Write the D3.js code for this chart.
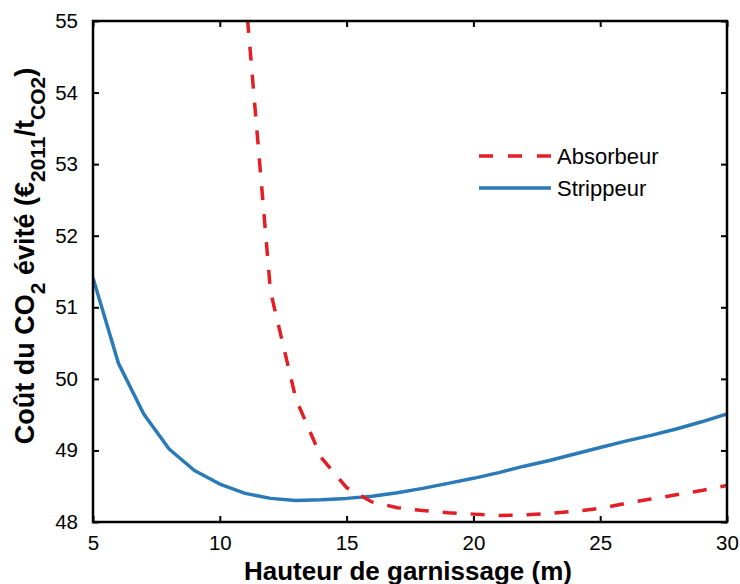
<!DOCTYPE html>
<html><head><meta charset="utf-8">
<script src="https://cdn.jsdelivr.net/npm/d3@7"></script>
<style>body{margin:0;background:#fff}svg{display:block;font-family:"Liberation Sans",Arial,sans-serif}</style>
</head><body><svg id="c" width="740" height="584"></svg>
<script>
const xTicks = [5,10,15,20,25,30];
const yTicks = [48,49,50,51,52,53,54,55];
const stripX = [5,6,7,8,9,10,11,12,13,14,15,16,17,18,19,20,21,22,23,24,25,26,27,28,29,30];
const stripY = [51.41,50.22,49.51,49.02,48.72,48.53,48.40,48.33,48.30,48.31,48.33,48.36,48.41,48.47,48.54,48.61,48.69,48.78,48.86,48.95,49.04,49.13,49.21,49.30,49.40,49.51];
const absX = [11,12,13,14,15,16,17,18,19,20,21,22,23,24,25,26,27,28,29,30];
const absY = [55.42,51.22,49.72,48.90,48.48,48.28,48.20,48.16,48.13,48.11,48.09,48.10,48.12,48.15,48.19,48.26,48.32,48.38,48.44,48.51];
const seriesNames = ["Absorbeur","Strippeur"];

const svg = d3.select("#c");
const L=93, R=727, T=21, B=522;
const x = d3.scaleLinear().domain([5,30]).range([L,R]);
const y = d3.scaleLinear().domain([48,55]).range([B,T]);
const red="#e31e24", blue="#2a7ab7";
const FF="Liberation Sans, Arial, sans-serif";

svg.append("clipPath").attr("id","clip").append("rect").attr("x",L).attr("y",T).attr("width",R-L).attr("height",B-T);

const line = d3.line().x(d=>x(d[0])).y(d=>y(d[1]));
const g = svg.append("g").attr("clip-path","url(#clip)");
g.append("path").datum(stripX.map((v,i)=>[v,stripY[i]])).attr("d",line)
 .attr("fill","none").attr("stroke",blue).attr("stroke-width",3.5).attr("stroke-linejoin","round");
g.append("path").datum(absX.map((v,i)=>[v,absY[i]])).attr("d",line)
 .attr("fill","none").attr("stroke",red).attr("stroke-width",3.5).attr("stroke-dasharray","14,14");

const ax = (gen, tr) => { const a = svg.append("g").attr("transform",tr).call(gen); a.select(".domain").remove(); a.selectAll("line").attr("stroke","#000").attr("stroke-width",2); return a; };
const fs=20.5;
const bx = ax(d3.axisBottom(x).tickValues(xTicks).tickSize(-6).tickPadding(13).tickFormat(d3.format("d")), `translate(0,${B})`);
bx.selectAll("text").attr("font-size",fs).attr("fill","#000").attr("font-family",FF);
ax(d3.axisTop(x).tickValues(xTicks).tickSize(-6).tickFormat(""), `translate(0,${T})`);
const ly = ax(d3.axisLeft(y).tickValues(yTicks).tickSize(-6).tickPadding(15).tickFormat(d3.format("d")), `translate(${L},0)`);
ly.selectAll("text").attr("font-size",fs).attr("fill","#000").attr("font-family",FF);
ax(d3.axisRight(y).tickValues(yTicks).tickSize(-6).tickFormat(""), `translate(${R},0)`);

svg.append("rect").attr("x",L).attr("y",T).attr("width",R-L).attr("height",B-T)
 .attr("fill","none").attr("stroke","#000").attr("stroke-width",2.5);

svg.append("text").attr("x",408).attr("y",580).attr("text-anchor","middle")
 .attr("font-size",26).attr("font-weight","bold").text("Hauteur de garnissage (m)");

const yt = svg.append("text").attr("transform","translate(34,256) rotate(-90)").attr("text-anchor","middle")
 .attr("font-size",27).attr("font-weight","bold");
yt.append("tspan").text("Coût du CO");
yt.append("tspan").attr("font-size",21).attr("dy",11).text("2");
yt.append("tspan").attr("dy",-11).text(" évité (€");
yt.append("tspan").attr("font-size",21).attr("dy",11).text("2011");
yt.append("tspan").attr("dy",-11).text("/t");
yt.append("tspan").attr("font-size",21).attr("dy",11).text("CO2");
yt.append("tspan").attr("dy",-11).text(")");

const leg = [{name:seriesNames[0],c:red,d:"14,15",yy:156},{name:seriesNames[1],c:blue,d:null,yy:188}];
leg.forEach(l=>{
  svg.append("line").attr("x1",479).attr("x2",551).attr("y1",l.yy).attr("y2",l.yy)
   .attr("stroke",l.c).attr("stroke-width",3.5).attr("stroke-dasharray",l.d);
  svg.append("text").attr("x",557).attr("y",l.yy+8).attr("font-size",22).text(l.name);
});
</script></body></html>
